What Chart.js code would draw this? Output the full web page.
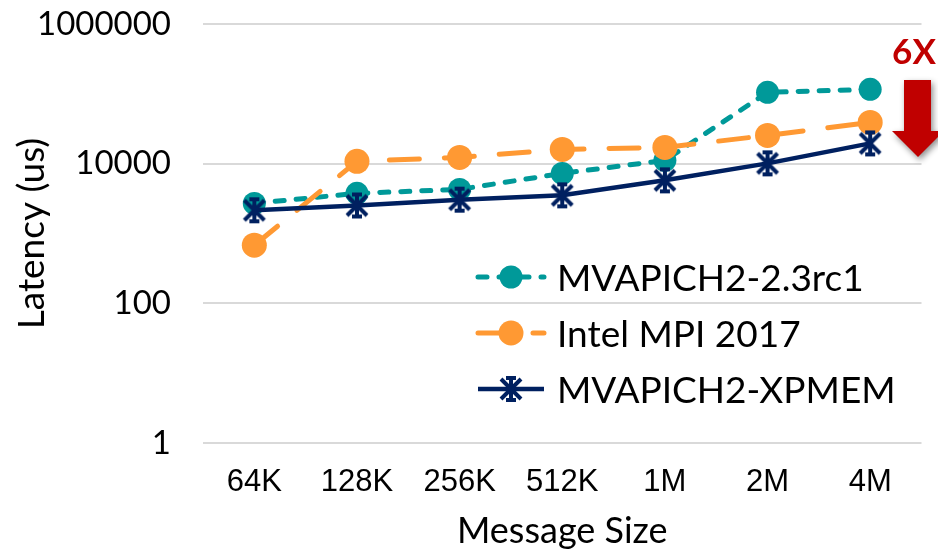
<!DOCTYPE html>
<html>
<head>
<meta charset="utf-8">
<script src="https://cdn.jsdelivr.net/npm/chart.js@4.4.1/dist/chart.umd.min.js"></script>
<style>
	html, body { margin: 0; padding: 0; background: #fff; }
</style>
</head>
<body>
<canvas id="latencyChart" width="938" height="549"></canvas>
<script>
// ===================
// Data
// ===================

const sizes = ['64K', '128K', '256K', '512K', '1M', '2M', '4M'];
const mvapich = [2700, 3760, 4280, 7260, 11150, 105000, 116000];
const intelMpi = [680, 10800, 12300, 16000, 17100, 25400, 39000];
const xpmem = [2150, 2520, 3050, 3520, 5770, 10100, 19500];
const yTicks = [1, 100, 10000, 1000000];

const TEAL = '#009999';
const ORANGE = '#FF9933';
const NAVY = '#002060';

// asterisk-like marker used by the XPMEM series
function starMarker(color) {
	const c = document.createElement('canvas');
	c.width = 28;
	c.height = 28;
	const g = c.getContext('2d');
	g.strokeStyle = color;
	g.lineWidth = 4;
	g.beginPath();
	g.moveTo(4, 4); g.lineTo(24, 24);
	g.moveTo(24, 4); g.lineTo(4, 24);
	g.moveTo(14, 2); g.lineTo(14, 26);
	g.moveTo(9, 3); g.lineTo(19, 3);
	g.moveTo(9, 25); g.lineTo(19, 25);
	g.stroke();
	return c;
}

// ===================
// Legend inside the plot
// ===================

const insideLegend = {
	id: 'insideLegend',
	afterDatasetsDraw(chart, args, opts) {
		const ctx = chart.ctx;
		chart.data.datasets.forEach(function (ds, i) {
			const y = opts.top + i * opts.rowGap;
			const mid = opts.left + opts.sample / 2;
			ctx.save();
			ctx.strokeStyle = ds.borderColor;
			ctx.lineWidth = ds.borderWidth;
			ctx.lineCap = ds.borderCapStyle || 'butt';
			ctx.setLineDash(ds.borderDash || []);
			ctx.beginPath();
			ctx.moveTo(opts.left, y);
			ctx.lineTo(opts.left + opts.sample, y);
			ctx.stroke();
			ctx.setLineDash([]);
			if (ds.pointStyle === 'circle') {
				ctx.fillStyle = ds.pointBackgroundColor;
				ctx.beginPath();
				ctx.arc(mid, y, ds.pointRadius, 0, Math.PI * 2);
				ctx.fill();
			} else {
				const img = ds.pointStyle;
				ctx.drawImage(img, mid - img.width / 2, y - img.height / 2);
			}
			ctx.fillStyle = '#000';
			ctx.font = opts.font;
			ctx.textBaseline = 'middle';
			ctx.fillText(ds.label, opts.textX, y + 2);
			ctx.restore();
		});
	}
};

// ===================
// "6X" callout
// ===================

const callout = {
	id: 'callout',
	afterDraw(chart) {
		const ctx = chart.ctx;
		ctx.save();
		ctx.fillStyle = '#C00000';
		ctx.font = 'bold 35px Lato';
		ctx.textAlign = 'center';
		ctx.textBaseline = 'middle';
		ctx.fillText('6X', 914, 53);

		ctx.shadowColor = 'rgba(0,0,0,0.45)';
		ctx.shadowBlur = 6;
		ctx.shadowOffsetX = 2;
		ctx.shadowOffsetY = 3;
		ctx.beginPath();
		ctx.moveTo(904, 80);
		ctx.lineTo(931, 80);
		ctx.lineTo(931, 131);
		ctx.lineTo(944, 131);
		ctx.lineTo(918, 157);
		ctx.lineTo(892, 131);
		ctx.lineTo(904, 131);
		ctx.closePath();
		ctx.fill();
		ctx.restore();
	}
};

// ===================
// Latency Chart
// ===================

var ctx = document.getElementById('latencyChart').getContext('2d');
var chart = new Chart(ctx, {
	type: 'line',
	data: {
		labels: sizes,
		datasets: [{
			label: 'MVAPICH2-2.3rc1',
			data: mvapich,
			borderColor: TEAL,
			backgroundColor: TEAL,
			pointBackgroundColor: TEAL,
			borderWidth: 5,
			borderDash: [9, 12],
			borderCapStyle: 'round',
			pointStyle: 'circle',
			pointRadius: 11.5,
			pointBorderWidth: 0,
			order: 3
		}, {
			label: 'Intel MPI 2017',
			data: intelMpi,
			borderColor: ORANGE,
			backgroundColor: ORANGE,
			pointBackgroundColor: ORANGE,
			borderWidth: 5,
			borderDash: [30, 25],
			borderCapStyle: 'round',
			pointStyle: 'circle',
			pointRadius: 12.5,
			pointBorderWidth: 0,
			order: 2
		}, {
			label: 'MVAPICH2-XPMEM',
			data: xpmem,
			borderColor: NAVY,
			backgroundColor: NAVY,
			borderWidth: 4.5,
			pointStyle: starMarker(NAVY),
			pointRadius: 12,
			order: 1
		}]
	},
	options: {
		responsive: false,
		animation: false,
		layout: {
			padding: { top: 24, right: 5, left: 0, bottom: 0 }
		},
		plugins: {
			legend: { display: false },
			tooltip: { enabled: false },
			insideLegend: {
				left: 478, sample: 66, textX: 557, top: 277, rowGap: 56,
				font: '37px Lato'
			}
		},
		scales: {
			x: {
				offset: true,
				grid: { display: false },
				border: { display: false },
				ticks: {
					color: '#000',
					padding: 13,
					maxRotation: 0,
					font: { family: 'Liberation Sans', size: 31 }
				},
				title: {
					display: true,
					text: 'Message Size',
					color: '#000',
					padding: { top: 0, bottom: 0 },
					font: { family: 'Lato', size: 36, lineHeight: 1 }
				},
				afterFit: function (scale) {
					scale.height = 106;
					scale.paddingLeft = 0;
					scale.paddingRight = 0;
				}
			},
			y: {
				type: 'logarithmic',
				min: 1,
				max: 1000000,
				grid: { color: '#d9d9d9', lineWidth: 2, drawTicks: false },
				border: { display: false },
				afterBuildTicks: function (axis) {
					axis.ticks = yTicks.map(function (v) { return { value: v }; });
				},
				ticks: {
					color: '#000',
					padding: 32,
					font: { family: 'Lato', size: 33 },
					callback: function (value) { return String(value); }
				},
				title: {
					display: true,
					text: 'Latency (us)',
					color: '#000',
					padding: { top: 14, bottom: 0 },
					font: { family: 'Lato', size: 37, lineHeight: 1 }
				},
				afterFit: function (scale) {
					scale.width = 203;
					scale.paddingTop = 0;
					scale.paddingBottom = 0;
				}
			}
		}
	},
	plugins: [insideLegend, callout]
});
</script>
</body>
</html>
